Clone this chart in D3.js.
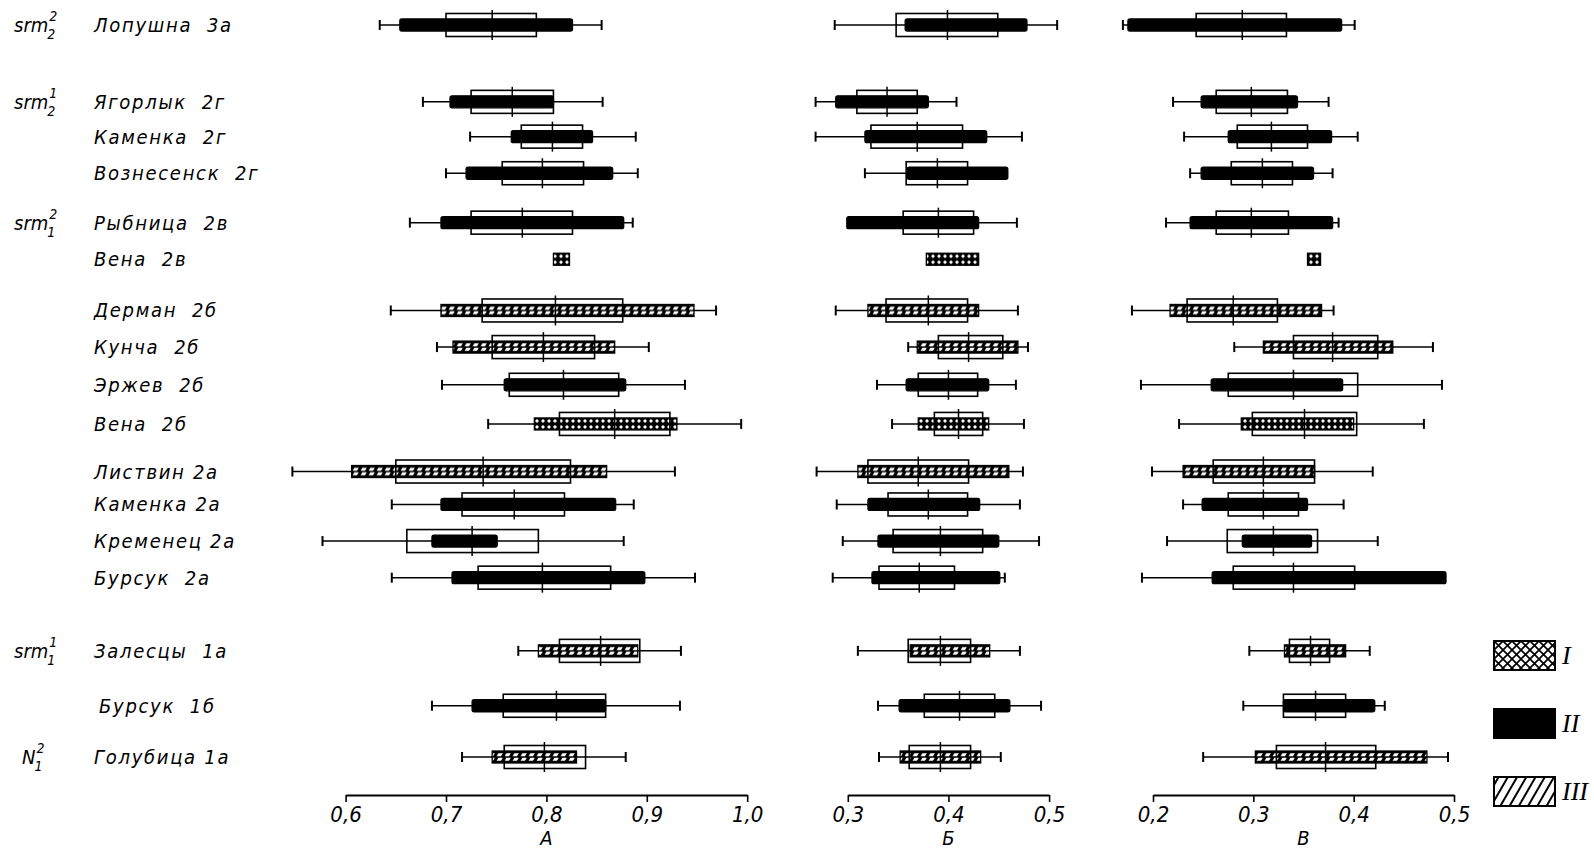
<!DOCTYPE html>
<html>
<head>
<meta charset="utf-8">
<script src="https://cdn.jsdelivr.net/npm/d3@7"></script>
<style>
  body { margin: 0; background: #fff; }
  text { font-family: "DejaVu Sans Condensed", "DejaVu Sans", sans-serif; font-style: oblique; fill: #000; }
  .roman { font-family: "Liberation Serif", "DejaVu Serif", serif; font-style: italic; }
</style>
</head>
<body>
<div id="chart"></div>
<script>
// sites, top to bottom; slot = vertical position in row units (gaps between horizons)
const sites = ["Лопушна  3а", "Ягорлык  2г", "Каменка  2г", "Вознесенск  2г", "Рыбница  2в", "Вена  2в",
  "Дерман  2б", "Кунча  2б", "Эржев  2б", "Вена  2б", "Листвин 2а", "Каменка 2а", "Кременец 2а", "Бурсук  2а",
  "Залесцы  1а", "Бурсук  1б", "Голубица 1а"];
const siteSlot = [0, 2.1, 3.05, 4.05, 5.4, 6.4, 7.8, 8.8, 9.83, 10.9, 12.2, 13.1, 14.1, 15.1, 17.1, 18.6, 20];
const siteKind = ["II", "II", "II", "II", "II", "I", "III", "III", "II", "I", "III", "II", "II", "II", "III", "II", "III"];

// stratigraphic labels
const groupRow = [0, 1, 4, 14, 16];
const groupBase = ["srm", "srm", "srm", "srm", "N"];
const groupSup = ["2", "1", "2", "1", "2"];
const groupSub = ["2", "2", "1", "1", "1"];

const panelNames = ["А", "Б", "В"];
const ticksA = [0.6, 0.7, 0.8, 0.9, 1.0];
const ticksB = [0.3, 0.4, 0.5];
const ticksC = [0.2, 0.3, 0.4, 0.5];

const legendKinds = ["I", "II", "III"];

// each row: [min, barLo, barHi, boxLo, boxHi, mean, max]
const statsA = [
  [0.634, 0.654, 0.826, 0.700, 0.790, 0.746, 0.855],
  [0.677, 0.704, 0.807, 0.725, 0.807, 0.766, 0.856],
  [0.724, 0.765, 0.846, 0.775, 0.836, 0.806, 0.889],
  [0.700, 0.720, 0.866, 0.756, 0.837, 0.796, 0.891],
  [0.664, 0.695, 0.877, 0.725, 0.826, 0.776, 0.886],
  [null, 0.807, 0.823, null, null, null, null],
  [0.645, 0.695, 0.947, 0.736, 0.876, 0.809, 0.969],
  [0.691, 0.707, 0.868, 0.746, 0.848, 0.797, 0.902],
  [0.696, 0.758, 0.879, 0.763, 0.872, 0.817, 0.938],
  [0.742, 0.788, 0.930, 0.813, 0.923, 0.868, 0.994],
  [0.547, 0.606, 0.860, 0.650, 0.824, 0.737, 0.928],
  [0.646, 0.695, 0.869, 0.716, 0.818, 0.768, 0.887],
  [0.577, 0.686, 0.751, 0.661, 0.792, 0.726, 0.877],
  [0.646, 0.706, 0.898, 0.732, 0.864, 0.796, 0.948],
  [0.772, 0.792, 0.891, 0.813, 0.893, 0.854, 0.934],
  [0.686, 0.726, 0.859, 0.757, 0.859, 0.810, 0.933],
  [0.716, 0.746, 0.830, 0.758, 0.839, 0.798, 0.879]
];
const statsB = [
  [0.287, 0.357, 0.478, 0.348, 0.449, 0.399, 0.508],
  [0.268, 0.288, 0.380, 0.309, 0.369, 0.339, 0.408],
  [0.268, 0.317, 0.438, 0.323, 0.414, 0.369, 0.473],
  [0.317, 0.359, 0.459, 0.358, 0.419, 0.389, null],
  [null, 0.299, 0.430, 0.355, 0.425, 0.390, 0.468],
  [null, 0.378, 0.430, null, null, null, null],
  [0.288, 0.320, 0.430, 0.338, 0.419, 0.380, 0.469],
  [0.360, 0.369, 0.469, 0.390, 0.454, 0.420, 0.479],
  [0.329, 0.358, 0.440, 0.370, 0.429, 0.400, 0.467],
  [0.344, 0.370, 0.440, 0.386, 0.434, 0.410, 0.475],
  [0.269, 0.310, 0.460, 0.320, 0.420, 0.370, 0.474],
  [0.289, 0.320, 0.431, 0.340, 0.419, 0.380, 0.471],
  [0.295, 0.330, 0.450, 0.345, 0.434, 0.392, 0.490],
  [0.285, 0.324, 0.451, 0.331, 0.406, 0.371, 0.456],
  [0.310, 0.362, 0.441, 0.360, 0.422, 0.392, 0.471],
  [0.330, 0.351, 0.461, 0.376, 0.446, 0.411, 0.492],
  [0.331, 0.352, 0.432, 0.361, 0.422, 0.392, 0.452]
];
const statsC = [
  [0.170, 0.175, 0.388, 0.243, 0.333, 0.289, 0.401],
  [0.220, 0.248, 0.344, 0.263, 0.334, 0.298, 0.375],
  [0.231, 0.275, 0.378, 0.284, 0.354, 0.318, 0.404],
  [0.237, 0.248, 0.360, 0.278, 0.339, 0.309, 0.379],
  [0.213, 0.237, 0.379, 0.263, 0.335, 0.298, 0.385],
  [null, 0.354, 0.367, null, null, null, null],
  [0.179, 0.217, 0.368, 0.234, 0.324, 0.280, 0.380],
  [0.281, 0.310, 0.439, 0.340, 0.424, 0.379, 0.479],
  [0.188, 0.258, 0.389, 0.275, 0.404, 0.340, 0.488],
  [0.226, 0.288, 0.400, 0.299, 0.403, 0.351, 0.470],
  [0.199, 0.230, 0.361, 0.260, 0.361, 0.310, 0.419],
  [0.230, 0.249, 0.354, 0.275, 0.345, 0.310, 0.390],
  [0.214, 0.289, 0.358, 0.274, 0.364, 0.320, 0.424],
  [0.189, 0.259, 0.492, 0.280, 0.401, 0.340, null],
  [0.296, 0.331, 0.392, 0.336, 0.376, 0.357, 0.416],
  [0.290, 0.330, 0.421, 0.330, 0.392, 0.362, 0.431],
  [0.250, 0.302, 0.473, 0.323, 0.422, 0.372, 0.494]
];

const width = 1594, height = 852
  , axisY = 795
  , barH = 12
  , boxH = 23
  , meanH = 30
  , capH = 10;

const svg = d3.select("#chart").append("svg")
  .attr("width", width)
  .attr("height", height);

const defs = svg.append("defs");

// hatched bar: black with two rows of slanted white dashes
const hatchBar = defs.append("pattern")
  .attr("id", "hatchBar")
  .attr("patternUnits", "userSpaceOnUse")
  .attr("x", 0).attr("y", -barH / 2)
  .attr("width", 8).attr("height", barH);
hatchBar.append("rect").attr("width", 8).attr("height", barH).attr("fill", "#000");
hatchBar.append("path").attr("fill", "#fff")
  .attr("d", "M2.4,2.2L6.8,2.2L5,5.2L0.6,5.2Z M2.4,6.8L6.8,6.8L5,9.8L0.6,9.8Z");

// cross-hatched bar: black lattice with white cells
const crossBar = defs.append("pattern")
  .attr("id", "crossBar")
  .attr("patternUnits", "userSpaceOnUse")
  .attr("x", 0).attr("y", -barH / 2)
  .attr("width", 6).attr("height", 6);
crossBar.append("rect").attr("width", 6).attr("height", 6).attr("fill", "#000");
crossBar.append("path").attr("fill", "#fff").attr("d", "M3,1L5,3L3,5L1,3Z");

// legend patterns
const crossLeg = defs.append("pattern")
  .attr("id", "crossLeg")
  .attr("patternUnits", "userSpaceOnUse")
  .attr("width", 9).attr("height", 9);
crossLeg.append("rect").attr("width", 9).attr("height", 9).attr("fill", "#fff");
crossLeg.append("path").attr("stroke", "#000").attr("stroke-width", 1.7)
  .attr("d", "M0,0L9,9M9,0L0,9");

const hatchLeg = defs.append("pattern")
  .attr("id", "hatchLeg")
  .attr("patternUnits", "userSpaceOnUse")
  .attr("patternTransform", "rotate(30)")
  .attr("width", 8).attr("height", 8);
hatchLeg.append("rect").attr("width", 8).attr("height", 8).attr("fill", "#fff");
hatchLeg.append("line").attr("x1", 4).attr("x2", 4).attr("y1", 0).attr("y2", 8)
  .attr("stroke", "#000").attr("stroke-width", 2);

const kindFill = {"I": "url(#crossBar)", "II": "#000", "III": "url(#hatchBar)"};
const legendFill = {"I": "url(#crossLeg)", "II": "#000", "III": "url(#hatchLeg)"};

const yRow = d3.scaleLinear().domain([0, 20]).range([25, 757]);

// labels on the left
const labels = svg.append("g");
labels.selectAll(".site")
  .data(sites)
  .join("text")
  .attr("class", "site")
  .attr("x", (d, i) => i == 15 ? 99 : 94)
  .attr("y", (d, i) => yRow(siteSlot[i]) + 7)
  .attr("font-size", 20)
  .style("letter-spacing", "1.7px")
  .style("white-space", "pre")
  .text(d => d);

groupRow.forEach((r, i) => {
  const y = yRow(siteSlot[r]);
  const x0 = groupBase[i] == "N" ? 22 : 14;
  const base = labels.append("text")
    .attr("x", x0).attr("y", y + 7)
    .attr("font-size", 20)
    .text(groupBase[i]);
  const w = base.node().getComputedTextLength();
  labels.append("text")
    .attr("x", x0 + w + 1).attr("y", y - 4)
    .attr("font-size", 14)
    .text(groupSup[i]);
  labels.append("text")
    .attr("x", x0 + w - 1).attr("y", y + 14)
    .attr("font-size", 14)
    .text(groupSub[i]);
});

const panels = [
  {name: panelNames[0], stats: statsA, ticks: ticksA, range: [345.6, 747.2]},
  {name: panelNames[1], stats: statsB, ticks: ticksB, range: [847.8, 1049.1]},
  {name: panelNames[2], stats: statsC, ticks: ticksC, range: [1153, 1454]}
];

panels.forEach(p => {
  const x = d3.scaleLinear().domain(d3.extent(p.ticks)).range(p.range);
  const panel = svg.append("g");

  const rows = panel.selectAll(".row")
    .data(p.stats)
    .join("g")
    .attr("class", "row")
    .attr("transform", (d, i) => `translate(0,${yRow(siteSlot[i])})`);

  rows.each(function(d, i) {
    const g = d3.select(this);
    const [mn, barLo, barHi, boxLo, boxHi, mean, mx] = d;

    if (mn != null || mx != null) {
      const lo = mn != null ? mn : barLo
      , hi = mx != null ? mx : barHi;
      g.append("line")
        .attr("x1", x(lo)).attr("x2", x(hi))
        .attr("stroke", "#000").attr("stroke-width", 1.5);
      [mn, mx].filter(v => v != null).forEach(v => {
        g.append("line")
          .attr("x1", x(v)).attr("x2", x(v))
          .attr("y1", -capH / 2).attr("y2", capH / 2)
          .attr("stroke", "#000").attr("stroke-width", 2);
      });
    }

    g.append("rect")
      .attr("x", x(barLo))
      .attr("y", -barH / 2)
      .attr("width", x(barHi) - x(barLo))
      .attr("height", barH)
      .attr("rx", siteKind[i] == "II" ? 2 : 0)
      .attr("fill", kindFill[siteKind[i]])
      .attr("stroke", "#000")
      .attr("stroke-width", 1.3);

    if (boxLo != null) {
      g.append("rect")
        .attr("x", x(boxLo))
        .attr("y", -boxH / 2)
        .attr("width", x(boxHi) - x(boxLo))
        .attr("height", boxH)
        .attr("fill", "none")
        .attr("stroke", "#000")
        .attr("stroke-width", 1.6);
    }
    if (mean != null) {
      g.append("line")
        .attr("x1", x(mean)).attr("x2", x(mean))
        .attr("y1", -meanH / 2).attr("y2", meanH / 2)
        .attr("stroke", "#000").attr("stroke-width", 1.5);
    }
  });

  const axis = panel.append("g")
    .attr("transform", `translate(0,${axisY})`)
    .call(d3.axisBottom(x)
      .tickValues(p.ticks)
      .tickSize(7)
      .tickSizeOuter(0)
      .tickPadding(4)
      .tickFormat(d => d3.format(".1f")(d).replace(".", ",")))
    .attr("font-size", 22);
  axis.select(".domain").attr("stroke-width", 2);
  axis.selectAll(".tick line").attr("stroke-width", 1.6);

  panel.append("text")
    .attr("x", (p.range[0] + p.range[1]) / 2)
    .attr("y", 845)
    .attr("text-anchor", "middle")
    .attr("font-size", 20)
    .text(p.name);
});

// legend
const legend = svg.append("g")
  .selectAll("g")
  .data(legendKinds)
  .join("g")
  .attr("transform", (d, i) => `translate(1494,${641 + i * 68})`);
legend.append("rect")
  .attr("width", 61).attr("height", 29)
  .attr("fill", d => legendFill[d])
  .attr("stroke", "#000").attr("stroke-width", 2);
legend.append("text")
  .attr("class", "roman")
  .attr("x", 68).attr("y", 23)
  .attr("font-size", 26)
  .text(d => d);
</script>
</body>
</html>
